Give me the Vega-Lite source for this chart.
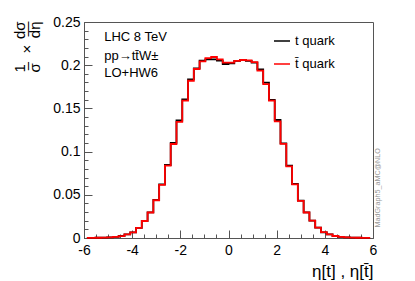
{
  "$schema": "https://vega.github.io/schema/vega-lite/v6.json",
  "width": 289,
  "height": 216,
  "autosize": {"type": "none"},
  "padding": {"left": 84, "top": 22, "right": 42, "bottom": 43},
  "background": "white",
  "config": {
    "font": "Liberation Sans",
    "view": {"stroke": "#555", "strokeWidth": 1},
    "axis": {"grid": false, "domainColor": "#555", "tickColor": "#555", "labelColor": "#000", "titleColor": "#000", "labelFont": "Liberation Sans", "titleFont": "Liberation Sans", "titleFontWeight": "normal", "labelFontSize": 14}
  },
  "resolve": {"axis": {"x": "independent", "y": "independent"}},
  "datasets": {
    "hist": [
      {"eta": -5.88, "v": 0.0001, "s": "t quark"}, {"eta": -5.64, "v": 0.0002, "s": "t quark"}, {"eta": -5.40, "v": 0.0003, "s": "t quark"}, {"eta": -5.16, "v": 0.0005, "s": "t quark"}, {"eta": -4.92, "v": 0.0008, "s": "t quark"},
      {"eta": -4.68, "v": 0.0013, "s": "t quark"}, {"eta": -4.44, "v": 0.0023, "s": "t quark"}, {"eta": -4.20, "v": 0.0042, "s": "t quark"}, {"eta": -3.96, "v": 0.0066, "s": "t quark"}, {"eta": -3.72, "v": 0.0118, "s": "t quark"},
      {"eta": -3.48, "v": 0.0198, "s": "t quark"}, {"eta": -3.24, "v": 0.0297, "s": "t quark"}, {"eta": -3.00, "v": 0.0440, "s": "t quark"}, {"eta": -2.76, "v": 0.0620, "s": "t quark"}, {"eta": -2.52, "v": 0.0845, "s": "t quark"},
      {"eta": -2.28, "v": 0.1100, "s": "t quark"}, {"eta": -2.04, "v": 0.1360, "s": "t quark"}, {"eta": -1.80, "v": 0.1605, "s": "t quark"}, {"eta": -1.56, "v": 0.1837, "s": "t quark"}, {"eta": -1.32, "v": 0.1964, "s": "t quark"},
      {"eta": -1.08, "v": 0.2053, "s": "t quark"}, {"eta": -0.84, "v": 0.2068, "s": "t quark"}, {"eta": -0.60, "v": 0.2068, "s": "t quark"}, {"eta": -0.36, "v": 0.2053, "s": "t quark"}, {"eta": -0.12, "v": 0.2014, "s": "t quark"},
      {"eta": 0.12, "v": 0.2022, "s": "t quark"}, {"eta": 0.36, "v": 0.2049, "s": "t quark"}, {"eta": 0.60, "v": 0.2060, "s": "t quark"}, {"eta": 0.84, "v": 0.2049, "s": "t quark"}, {"eta": 1.08, "v": 0.2029, "s": "t quark"},
      {"eta": 1.32, "v": 0.1952, "s": "t quark"}, {"eta": 1.56, "v": 0.1798, "s": "t quark"}, {"eta": 1.80, "v": 0.1597, "s": "t quark"}, {"eta": 2.04, "v": 0.1366, "s": "t quark"}, {"eta": 2.28, "v": 0.1096, "s": "t quark"},
      {"eta": 2.52, "v": 0.0837, "s": "t quark"}, {"eta": 2.76, "v": 0.0625, "s": "t quark"}, {"eta": 3.00, "v": 0.0432, "s": "t quark"}, {"eta": 3.24, "v": 0.0297, "s": "t quark"}, {"eta": 3.48, "v": 0.0200, "s": "t quark"},
      {"eta": 3.72, "v": 0.0120, "s": "t quark"}, {"eta": 3.96, "v": 0.0066, "s": "t quark"}, {"eta": 4.20, "v": 0.0042, "s": "t quark"}, {"eta": 4.44, "v": 0.0023, "s": "t quark"}, {"eta": 4.68, "v": 0.0012, "s": "t quark"},
      {"eta": 4.92, "v": 0.0008, "s": "t quark"}, {"eta": 5.16, "v": 0.0005, "s": "t quark"}, {"eta": 5.40, "v": 0.0003, "s": "t quark"}, {"eta": 5.64, "v": 0.0002, "s": "t quark"}, {"eta": 5.88, "v": 0.0001, "s": "t quark"},
      {"eta": -5.88, "v": 0.0001, "s": "t̄ quark"}, {"eta": -5.64, "v": 0.0002, "s": "t̄ quark"}, {"eta": -5.40, "v": 0.0003, "s": "t̄ quark"}, {"eta": -5.16, "v": 0.0005, "s": "t̄ quark"}, {"eta": -4.92, "v": 0.0008, "s": "t̄ quark"},
      {"eta": -4.68, "v": 0.0012, "s": "t̄ quark"}, {"eta": -4.44, "v": 0.0022, "s": "t̄ quark"}, {"eta": -4.20, "v": 0.0041, "s": "t̄ quark"}, {"eta": -3.96, "v": 0.0066, "s": "t̄ quark"}, {"eta": -3.72, "v": 0.0117, "s": "t̄ quark"},
      {"eta": -3.48, "v": 0.0197, "s": "t̄ quark"}, {"eta": -3.24, "v": 0.0295, "s": "t̄ quark"}, {"eta": -3.00, "v": 0.0437, "s": "t̄ quark"}, {"eta": -2.76, "v": 0.0615, "s": "t̄ quark"}, {"eta": -2.52, "v": 0.0838, "s": "t̄ quark"},
      {"eta": -2.28, "v": 0.1088, "s": "t̄ quark"}, {"eta": -2.04, "v": 0.1345, "s": "t̄ quark"}, {"eta": -1.80, "v": 0.1590, "s": "t̄ quark"}, {"eta": -1.56, "v": 0.1820, "s": "t̄ quark"}, {"eta": -1.32, "v": 0.1956, "s": "t̄ quark"},
      {"eta": -1.08, "v": 0.2045, "s": "t̄ quark"}, {"eta": -0.84, "v": 0.2083, "s": "t̄ quark"}, {"eta": -0.60, "v": 0.2095, "s": "t̄ quark"}, {"eta": -0.36, "v": 0.2068, "s": "t̄ quark"}, {"eta": -0.12, "v": 0.2029, "s": "t̄ quark"},
      {"eta": 0.12, "v": 0.2029, "s": "t̄ quark"}, {"eta": 0.36, "v": 0.2049, "s": "t̄ quark"}, {"eta": 0.60, "v": 0.2060, "s": "t̄ quark"}, {"eta": 0.84, "v": 0.2055, "s": "t̄ quark"}, {"eta": 1.08, "v": 0.2035, "s": "t̄ quark"},
      {"eta": 1.32, "v": 0.1937, "s": "t̄ quark"}, {"eta": 1.56, "v": 0.1780, "s": "t̄ quark"}, {"eta": 1.80, "v": 0.1590, "s": "t̄ quark"}, {"eta": 2.04, "v": 0.1350, "s": "t̄ quark"}, {"eta": 2.28, "v": 0.1090, "s": "t̄ quark"},
      {"eta": 2.52, "v": 0.0830, "s": "t̄ quark"}, {"eta": 2.76, "v": 0.0620, "s": "t̄ quark"}, {"eta": 3.00, "v": 0.0430, "s": "t̄ quark"}, {"eta": 3.24, "v": 0.0295, "s": "t̄ quark"}, {"eta": 3.48, "v": 0.0200, "s": "t̄ quark"},
      {"eta": 3.72, "v": 0.0120, "s": "t̄ quark"}, {"eta": 3.96, "v": 0.0067, "s": "t̄ quark"}, {"eta": 4.20, "v": 0.0042, "s": "t̄ quark"}, {"eta": 4.44, "v": 0.0023, "s": "t̄ quark"}, {"eta": 4.68, "v": 0.0012, "s": "t̄ quark"},
      {"eta": 4.92, "v": 0.0008, "s": "t̄ quark"}, {"eta": 5.16, "v": 0.0005, "s": "t̄ quark"}, {"eta": 5.40, "v": 0.0003, "s": "t̄ quark"}, {"eta": 5.64, "v": 0.0002, "s": "t̄ quark"}, {"eta": 5.88, "v": 0.0001, "s": "t̄ quark"}
    ],
    "notes": [
      {"x": -5.16, "y": 0.2326, "t": "LHC 8 TeV"},
      {"x": -5.16, "y": 0.2105, "t": "pp→tt̄W±"},
      {"x": -5.16, "y": 0.1905, "t": "LO+HW6"}
    ],
    "side": [
      {"x": 6.19, "y": 0.058, "t": "MadGraph5_aMC@NLO"}
    ]
  },
  "layer": [
    {
      "data": {"name": "hist"},
      "mark": {"type": "line", "interpolate": "step", "strokeWidth": 1.8},
      "encoding": {
        "x": {
          "field": "eta", "type": "quantitative",
          "scale": {"domain": [-6, 6], "nice": false, "zero": false},
          "axis": {
            "orient": "bottom",
            "values": [-6, -4, -2, 0, 2, 4, 6],
            "labelExpr": "toString(datum.value)",
            "tickSize": -8,
            "labelPadding": 13,
            "labelFlush": false,
            "labelOverlap": false,
            "title": "η[t] , η[t̄]",
            "titleFontSize": 17,
            "titleAlign": "right",
            "titleAnchor": "end",
            "titleX": 289,
            "titleY": 38,
            "titleBaseline": "alphabetic"
          }
        },
        "y": {
          "field": "v", "type": "quantitative",
          "scale": {"domain": [0, 0.25], "nice": false},
          "axis": {
            "orient": "left",
            "values": [0, 0.05, 0.1, 0.15, 0.2, 0.25],
            "format": "~g",
            "tickSize": -8,
            "labelPadding": 12,
            "labelFlush": false,
            "labelOverlap": false,
            "title": ["1\u00a0\u00a0\u00a0\u00a0\u00a0\u00a0dσ", "–\u00a0\u00a0×\u00a0\u00a0—", "σ\u00a0\u00a0\u00a0\u00a0\u00a0\u00a0dη"],
            "titleFontSize": 15,
            "titleLineHeight": 7.5,
            "titleAngle": 270,
            "titleAlign": "right",
            "titleBaseline": "middle",
            "titleX": -65,
            "titleY": -1
          }
        },
        "color": {
          "field": "s", "type": "nominal",
          "scale": {"domain": ["t quark", "t̄ quark"], "range": ["#000000", "#ff0000"]},
          "legend": {
            "title": null, "orient": "none", "legendX": 189, "legendY": 10,
            "symbolType": "stroke", "symbolSize": 256, "symbolStrokeWidth": 1.5,
            "labelFontSize": 13, "labelFont": "Liberation Sans", "labelOffset": 4, "rowPadding": 7, "padding": 0
          }
        }
      }
    },
    {
      "data": {"name": "notes"},
      "mark": {"type": "text", "align": "left", "baseline": "middle", "fontSize": 13, "font": "Liberation Sans", "color": "#000"},
      "encoding": {
        "x": {
          "field": "x", "type": "quantitative",
          "axis": {
            "orient": "bottom",
            "values": [-5.5, -5, -4.5, -3.5, -3, -2.5, -1.5, -1, -0.5, 0.5, 1, 1.5, 2.5, 3, 3.5, 4.5, 5, 5.5],
            "labels": false, "domain": false, "tickSize": -4, "title": null
          }
        },
        "y": {
          "field": "y", "type": "quantitative",
          "axis": {
            "orient": "left",
            "values": [0.01, 0.02, 0.03, 0.04, 0.06, 0.07, 0.08, 0.09, 0.11, 0.12, 0.13, 0.14, 0.16, 0.17, 0.18, 0.19, 0.21, 0.22, 0.23, 0.24],
            "labels": false, "domain": false, "tickSize": -4, "title": null
          }
        },
        "text": {"field": "t"}
      }
    },
    {
      "data": {"name": "side"},
      "mark": {"type": "text", "align": "center", "baseline": "middle", "angle": 270, "fontSize": 7.2, "font": "Liberation Sans", "color": "#999"},
      "encoding": {
        "x": {"field": "x", "type": "quantitative", "axis": null},
        "y": {"field": "y", "type": "quantitative", "axis": null},
        "text": {"field": "t"}
      }
    }
  ]
}
